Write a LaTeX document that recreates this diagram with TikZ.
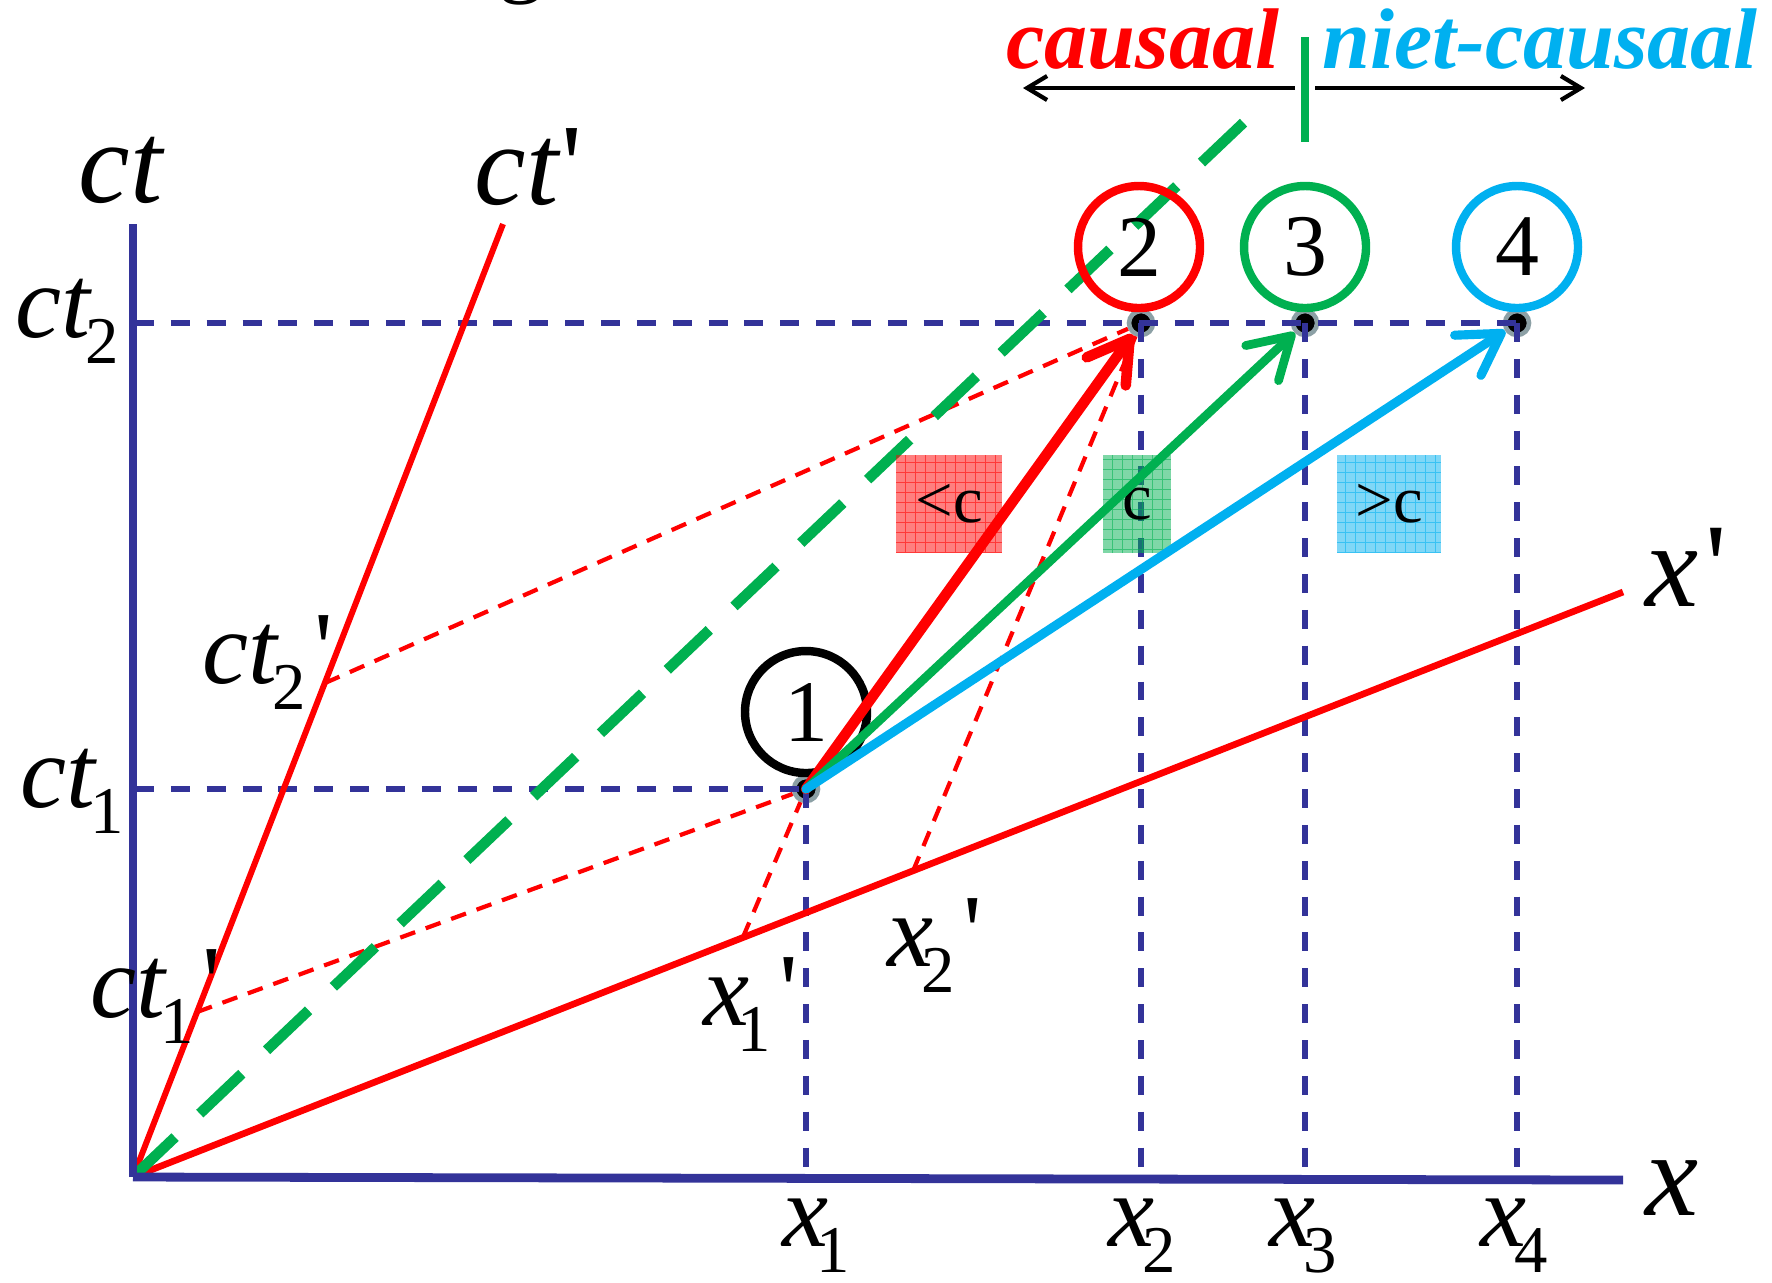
\documentclass[tikz,border=0pt]{standalone}
\usepackage{fontspec}
\newfontfamily\tnr{Liberation Serif}
\usetikzlibrary{arrows.meta}
\definecolor{axblue}{RGB}{51,51,153}
\definecolor{pgreen}{RGB}{0,176,80}
\definecolor{pblue}{RGB}{0,176,240}
\definecolor{dotgray}{RGB}{140,160,165}
\newcommand{\lsub}[1]{\kern-1.5pt\raisebox{-7.5pt}{\fontsize{19}{19}\selectfont\upshape #1}}
\newcommand{\lpr}{\hspace{2.5pt}{\upshape'}}
\tikzset{
  evdot/.style={circle, fill=black, draw=dotgray, line width=1.3pt, minimum size=2.4mm, inner sep=0pt},
  ring/.style={circle, draw=#1, line width=2.4pt, minimum size=12.2mm, inner sep=0pt, font=\tnr\fontsize{25}{25}\selectfont},
  bdash/.style={axblue, line width=1.5pt, dash pattern=on 5.4pt off 4.8pt},
  rdash/.style={red, line width=1.2pt, dash pattern=on 4.5pt off 3.2pt},
  gdash/.style={pgreen, line width=3pt, dash pattern=on 16.5pt off 9.7pt},
  frameline/.style={red, line width=1.7pt},
  axis/.style={axblue, line width=2.5pt},
  evarrow/.style={#1, line cap=round, -{Straight Barb[length=4mm, width=4.8mm, round]}},
  blackarrow/.style={black, line width=1.2pt, -{Straight Barb[length=2mm, width=2.4mm]}},
  cbox/.style={fill=#1, fill opacity=0.5, text opacity=1, minimum height=9.8mm, inner sep=0pt,
    font=\tnr\fontsize{19}{19}\selectfont,
    path picture={\draw[#1, opacity=0.55, line width=0.35pt, step=1mm]
      (path picture bounding box.south west) grid (path picture bounding box.north east);}},
  lblA/.style={anchor=base west, inner sep=0pt, font=\tnr\itshape\fontsize{33}{33}\selectfont},
  lblB/.style={anchor=base west, inner sep=0pt, font=\tnr\itshape\fontsize{29.5}{29.5}\selectfont},
  topword/.style={anchor=base, inner sep=0pt, font=\tnr\bfseries\itshape\fontsize{24.5}{24.5}\selectfont}
}
\begin{document}
\begin{tikzpicture}[x=0.1mm, y=-0.1mm]
\useasboundingbox (0,0) rectangle (1772,1282);
\clip (0,0) rectangle (1772,1282);

% coordinates
\coordinate (O) at (133,1177);
\coordinate (ctTop) at (133,224);
\coordinate (xEnd) at (1623,1180);
\coordinate (ctpTop) at (503,224);
\coordinate (xpEnd) at (1623,592);
\coordinate (lc) at (1260,107);
\coordinate (y2) at (135,323);
\coordinate (y1) at (135,789);
\coordinate (a1) at (806,1177);
\coordinate (a2) at (1141,1178);
\coordinate (a3) at (1305,1178);
\coordinate (a4) at (1517,1179);
\coordinate (p2) at (325,683);
\coordinate (p1) at (197,1012);
\coordinate (q1) at (743,937);
\coordinate (q2) at (913,871);
\coordinate (barTop) at (1305,37);
\coordinate (barBot) at (1305,142);
\coordinate (la) at (1295,88);
\coordinate (lt) at (1023,88);
\coordinate (ra) at (1315,88);
\coordinate (rt) at (1585,88);

% cut-off title fragment
\node[font=\tnr\fontsize{26}{26}\selectfont, anchor=base, inner sep=0pt] (gfrag) at (521,-15) {g};

% events
\node[evdot] (e1) at (806,789) {};
\node[evdot] (e2) at (1141,323) {};
\node[evdot] (e3) at (1305,323) {};
\node[evdot] (e4) at (1517,323) {};

% blue dashed projection lines
\draw[bdash] (y2) -- (e4.center);
\draw[bdash] (y1) -- (e1.center);
\draw[bdash] (e1.center) -- (a1);
\draw[bdash] (e2.center) -- (a2);
\draw[bdash] (e3.center) -- (a3);
\draw[bdash] (e4.center) -- (a4);

% moving frame axes
\draw[frameline] (O) -- (ctpTop);
\draw[frameline, line width=1.9pt] (O) -- (xpEnd);

% red dashed projections
\draw[rdash] (p2) -- (e2);
\draw[rdash] (p1) -- (e1);
\draw[rdash] (q1) -- (e1);
\draw[rdash] (q2) -- (e2);

% light cone
\draw[gdash] (O) -- (lc);

% speed boxes
\node[cbox=red, minimum width=10.6mm] (bslow) at (949,504) {<c};
\node[cbox=pgreen, minimum width=6.8mm] (blight) at (1137,504) {c};
\node[cbox=pblue, minimum width=10.4mm] (bfast) at (1389,504) {>c};

% circles
\node[ring=black] (c1) at (806,712) {1};
\node[ring=red] (c2) at (1139,247) {2};
\node[ring=pgreen] (c3) at (1305,247) {3};
\node[ring=pblue] (c4) at (1517,247) {4};

% axes
\draw[axis] (O) -- (ctTop);
\draw[axis] (O) -- (xEnd);

% event arrows
\draw[evarrow=red, line width=3pt] (e1.center) -- (e2);
\draw[evarrow=pgreen, line width=2.5pt] (e1.center) -- (e3);
\draw[evarrow=pblue, line width=2.6pt] (e1.center) -- (e4);

% labels
\node[lblA] (lct) at (78,202) {ct};
\node[lblA] (lctp) at (474,204) {ct\hspace{1pt}{\upshape'}};
\node[lblA, font=\tnr\itshape\fontsize{34}{34}\selectfont] (lx) at (1645,1215) {x};
\node[lblA, font=\tnr\itshape\fontsize{34}{34}\selectfont] (lxp) at (1645,606) {x\hspace{2pt}{\upshape'}};
\node[lblB] (lct2) at (15,337) {ct\lsub{2}};
\node[lblB] (lct1) at (20,807) {ct\lsub{1}};
\node[lblB] (lct2p) at (202,683) {ct\lsub{2}\lpr};
\node[lblB] (lct1p) at (90,1017) {ct\lsub{1}\lpr};
\node[lblB] (lx1p) at (703,1025) {x\kern-2pt\lsub{1}\lpr};
\node[lblB] (lx2p) at (887,966) {x\kern-2pt\lsub{2}\lpr};
\node[lblB] (lx1) at (782,1246) {x\kern-2pt\lsub{1}};
\node[lblB] (lx2) at (1108,1246) {x\kern-2pt\lsub{2}};
\node[lblB] (lx3) at (1269,1246) {x\kern-2pt\lsub{3}};
\node[lblB] (lx4) at (1480,1246) {x\kern-2pt\lsub{4}};

% causal / non-causal indicator
\node[topword, text=red] (caus) at (1143,68) {causaal};
\node[topword, text=pblue] (ncaus) at (1540,68) {niet-causaal};
\draw[pgreen, line width=2.2pt] (barTop) -- (barBot);
\draw[blackarrow] (la) -- (lt);
\draw[blackarrow] (ra) -- (rt);
\end{tikzpicture}
\end{document}
